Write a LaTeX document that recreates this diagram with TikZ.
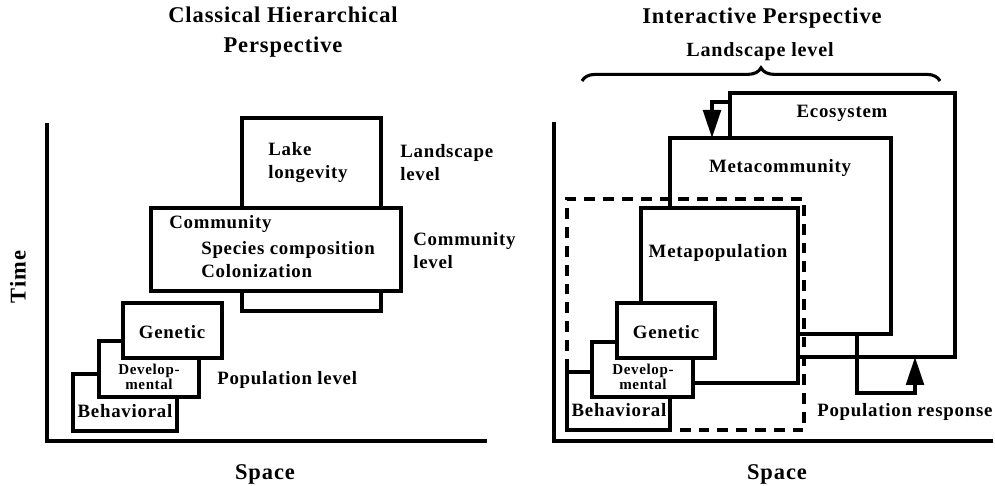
\documentclass[tikz,border=0pt]{standalone}
\usepackage{fontspec}
\setmainfont{Liberation Serif}[LetterSpace=4]
\usetikzlibrary{arrows.meta,decorations.pathreplacing}
\def\bigfont{\fontsize{16}{21}\selectfont\bfseries}
\def\midfont{\fontsize{13.4}{16.3}\selectfont\bfseries}
\def\smallfont{\fontsize{10.7}{9.3}\selectfont\bfseries}
\def\levelbox(#1)(#2,#3)(#4:#5){\node[box, minimum width=#4cm, minimum height=#5cm] (#1) at (#2,#3) {};}

\tikzset{
	box/.style={draw, line width=2.4pt, fill=white, inner sep=0pt, outer sep=0pt, anchor=south west},
	lbl/.style={font=\midfont, inner sep=0pt},
	small/.style={font=\smallfont, inner sep=0pt, align=center},
	axis/.style={line width=2.8pt},
	flow/.style={line width=2.6pt, line join=miter, -{Triangle[length=0.7cm, width=0.44cm]}},
	brace/.style={decorate, decoration={brace, amplitude=0.33cm}, line width=2.2pt}
}

\begin{document}
\begin{tikzpicture}
		%%%%% START %%%%%
		\useasboundingbox (0, 0) rectangle (24.875, 12.15);
		
		% classical hierarchical perspective
		\draw[axis] (1.175, 9.075) -- (1.175, 1.125) -- (12.175, 1.125);
		\node[font=\bigfont, align=center, inner sep=0pt] (ltitle) at (7.075, 11.35) {Classical Hierarchical\\Perspective};
		\node[font=\bigfont, inner sep=0pt] (lspace) at (6.625, 0.3) {Space};
		\node[font=\bigfont, inner sep=0pt, rotate=90] (ltime) at (0.45, 5.225) {Time};
		
		\levelbox(lake)(6.05,4.375)(3.475:4.825)
		\levelbox(comm)(3.775,4.875)(6.25:2.075)
		\levelbox(lbeh)(1.825,1.375)(2.6:1.425)
		\levelbox(ldev)(2.475,2.225)(2.5:1.4)
		\levelbox(lgen)(3.075,3.2)(2.475:1.375)
		
		\node[lbl, align=left, anchor=west] (lakelbl) at (6.7, 8.075) {Lake\\longevity};
		\node[lbl, align=left, anchor=west] (landlbl) at (10.0, 8.075) {Landscape\\level};
		\node[lbl, anchor=west] (commlbl) at (4.225, 6.55) {Community};
		\node[lbl, align=left, anchor=west] (spclbl) at (5.025, 5.65) {Species composition\\Colonization};
		\node[lbl, align=left, anchor=west] (commlev) at (10.325, 5.8875) {Community\\level};
		\node[lbl] (lgenlbl) at (4.3, 3.85) {Genetic};
		\node[small] (ldevlbl) at (3.725, 2.725) {Develop-\\mental};
		\node[lbl] (lbehlbl) at (3.125, 1.875) {Behavioral};
		\node[lbl, anchor=west] (poplev) at (5.425, 2.65) {Population level};
		
		% interactive perspective
		\draw[axis] (13.85, 9.1) -- (13.85, 1.125) -- (24.825, 1.125);
		\node[font=\bigfont, inner sep=0pt] (rtitle) at (19.05, 11.7) {Interactive Perspective};
		\node[font=\fontsize{14.3}{17}\selectfont\bfseries, inner sep=0pt] (landtop) at (19.0, 10.85) {Landscape level};
		\draw[brace] (14.55, 10.125) -- (23.5, 10.125);
		\node[font=\bigfont, inner sep=0pt] (rspace) at (19.425, 0.3) {Space};
		
		\levelbox(eco)(18.25,3.225)(5.625:6.6)
		\levelbox(mcom)(16.75,3.8)(5.525:4.9)
		\levelbox(mpop)(16.025,2.575)(3.925:4.375)
		\levelbox(rbeh)(14.175,1.4)(2.575:1.45)
		\levelbox(rdev)(14.8,2.225)(2.525:1.375)
		\levelbox(rgen)(15.425,3.2)(2.45:1.375)
		\node[box, fill=none, dash pattern=on 0.27cm off 0.2cm, minimum width=5.925cm, minimum height=5.775cm] (popdash) at (14.175, 1.4) {};
		
		\draw[flow] ([yshift=-0.225cm]eco.north west) -| ([xshift=1.05cm]mcom.north west);
		\draw[flow] ([xshift=-0.85cm]mcom.south east) -- ++(0, -1.475) -| ([xshift=-1cm]eco.south east);
		
		\node[lbl] (ecolbl) at (21.05, 9.325) {Ecosystem};
		\node[lbl] (mcomlbl) at (19.5, 7.95) {Metacommunity};
		\node[lbl] (mpoplbl) at (17.95, 5.825) {Metapopulation};
		\node[lbl] (rgenlbl) at (16.65, 3.85) {Genetic};
		\node[small] (rdevlbl) at (16.075, 2.725) {Develop-\\mental};
		\node[lbl] (rbehlbl) at (15.475, 1.9) {Behavioral};
		\node[lbl, anchor=west] (popresp) at (20.425, 1.85) {Population response};
		%%%%% END %%%%%
\end{tikzpicture}
\end{document}
